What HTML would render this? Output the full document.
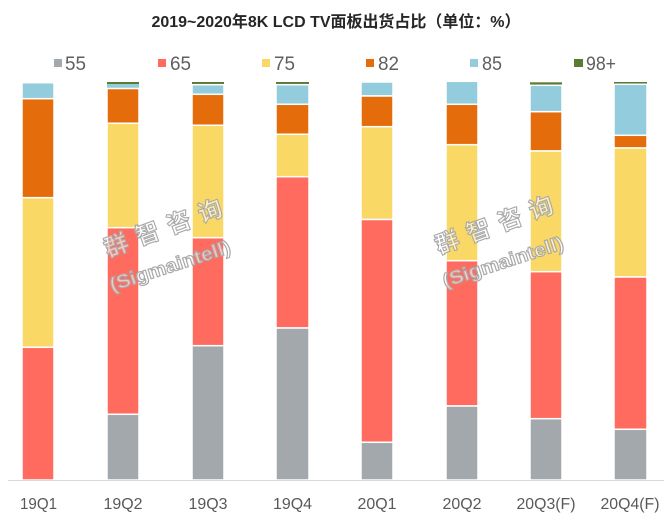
<!DOCTYPE html>
<html>
<head>
<meta charset="utf-8">
<style>
html,body{margin:0;padding:0;background:#fff;}
svg{display:block;}
</style>
</head>
<body>
<svg width="671" height="521" viewBox="0 0 671 521" xmlns="http://www.w3.org/2000/svg">
<rect width="671" height="521" fill="#fff"/>
<!-- title -->
<text x="336" y="27" text-anchor="middle" font-family="'Liberation Sans','Noto Sans CJK SC',sans-serif" font-weight="bold" font-size="16" fill="#262626" textLength="369" lengthAdjust="spacingAndGlyphs">2019~2020年8K LCD TV面板出货占比（单位：%）</text>

<!-- legend -->
<g font-family="'Liberation Sans','Noto Sans CJK SC',sans-serif" font-size="19" fill="#5f5f5f">
<rect x="54" y="59" width="8" height="8" fill="#a3a8ad"/><text x="65" y="70" textLength="21" lengthAdjust="spacingAndGlyphs">55</text>
<rect x="158" y="59" width="8" height="8" fill="#ff6b5e"/><text x="170" y="70" textLength="21" lengthAdjust="spacingAndGlyphs">65</text>
<rect x="262" y="59" width="8" height="8" fill="#f9d865"/><text x="274" y="70" textLength="21" lengthAdjust="spacingAndGlyphs">75</text>
<rect x="366" y="59" width="8" height="8" fill="#e46c0a"/><text x="378" y="70" textLength="21" lengthAdjust="spacingAndGlyphs">82</text>
<rect x="470" y="59" width="8" height="8" fill="#93cddd"/><text x="482" y="70" textLength="20" lengthAdjust="spacingAndGlyphs">85</text>
<rect x="574" y="59" width="9" height="8" fill="#5b7a33"/><text x="586" y="70" textLength="30" lengthAdjust="spacingAndGlyphs">98+</text>
</g>

<!-- bars -->
<g stroke="#fff" stroke-width="1.5">
<!-- 19Q1 -->
<rect x="22" y="82.7" width="32" height="16" fill="#93cddd"/>
<rect x="22" y="98.7" width="32" height="99" fill="#e46c0a"/>
<rect x="22" y="197.7" width="32" height="149.6" fill="#f9d865"/>
<rect x="22" y="347.3" width="32" height="132.7" fill="#ff6b5e"/>
<!-- 19Q2 -->
<rect x="107" y="82" width="32" height="2" fill="#5b7a33" stroke="none"/>
<rect x="107" y="84" width="32" height="4" fill="#93cddd" stroke="none"/>
<rect x="107" y="88.5" width="32" height="34.8" fill="#e46c0a"/>
<rect x="107" y="123.3" width="32" height="104.4" fill="#f9d865"/>
<rect x="107" y="227.7" width="32" height="186.6" fill="#ff6b5e"/>
<rect x="107" y="414.3" width="32" height="65.7" fill="#a3a8ad"/>
<!-- 19Q3 -->
<rect x="192" y="82" width="32" height="2.7" fill="#5b7a33" stroke="none"/>
<rect x="192" y="84.7" width="32" height="9.6" fill="#93cddd"/>
<rect x="192" y="94.3" width="32" height="31" fill="#e46c0a"/>
<rect x="192" y="125.3" width="32" height="112.4" fill="#f9d865"/>
<rect x="192" y="237.7" width="32" height="108" fill="#ff6b5e"/>
<rect x="192" y="345.7" width="32" height="134.3" fill="#a3a8ad"/>
<!-- 19Q4 -->
<rect x="276" y="82" width="33" height="2.7" fill="#5b7a33" stroke="none"/>
<rect x="276" y="84.7" width="33" height="19.6" fill="#93cddd"/>
<rect x="276" y="104.3" width="33" height="30" fill="#e46c0a"/>
<rect x="276" y="134.3" width="33" height="42.4" fill="#f9d865"/>
<rect x="276" y="176.7" width="33" height="151.3" fill="#ff6b5e"/>
<rect x="276" y="328" width="33" height="152" fill="#a3a8ad"/>
<!-- 20Q1 -->
<rect x="361" y="82" width="32" height="14" fill="#93cddd"/>
<rect x="361" y="96" width="32" height="30.7" fill="#e46c0a"/>
<rect x="361" y="126.7" width="32" height="92.8" fill="#f9d865"/>
<rect x="361" y="219.5" width="32" height="222.8" fill="#ff6b5e"/>
<rect x="361" y="442.3" width="32" height="37.7" fill="#a3a8ad"/>
<!-- 20Q2 -->
<rect x="446" y="81.3" width="32" height="23" fill="#93cddd"/>
<rect x="446" y="104.3" width="32" height="40.4" fill="#e46c0a"/>
<rect x="446" y="144.7" width="32" height="116" fill="#f9d865"/>
<rect x="446" y="260.7" width="32" height="145.3" fill="#ff6b5e"/>
<rect x="446" y="406" width="32" height="74" fill="#a3a8ad"/>
<!-- 20Q3 -->
<rect x="530" y="82.3" width="32" height="3" fill="#5b7a33" stroke="none"/>
<rect x="530" y="85.3" width="32" height="26.4" fill="#93cddd"/>
<rect x="530" y="111.7" width="32" height="39.3" fill="#e46c0a"/>
<rect x="530" y="151" width="32" height="120.7" fill="#f9d865"/>
<rect x="530" y="271.7" width="32" height="147" fill="#ff6b5e"/>
<rect x="530" y="418.7" width="32" height="61.3" fill="#a3a8ad"/>
<!-- 20Q4 -->
<rect x="614" y="82" width="33" height="2.3" fill="#5b7a33" stroke="none"/>
<rect x="614" y="84.3" width="33" height="51" fill="#93cddd"/>
<rect x="614" y="135.3" width="33" height="12.7" fill="#e46c0a"/>
<rect x="614" y="148" width="33" height="129" fill="#f9d865"/>
<rect x="614" y="277" width="33" height="152.3" fill="#ff6b5e"/>
<rect x="614" y="429.3" width="33" height="50.7" fill="#a3a8ad"/>
</g>

<!-- axis -->
<line x1="8" y1="480.5" x2="664" y2="480.5" stroke="#d9d9d9" stroke-width="1"/>

<!-- axis labels -->
<g font-family="'Liberation Sans',sans-serif" font-size="16" fill="#595959" text-anchor="middle">
<text x="38.5" y="509" textLength="37" lengthAdjust="spacingAndGlyphs">19Q1</text>
<text x="123" y="509" textLength="39" lengthAdjust="spacingAndGlyphs">19Q2</text>
<text x="208" y="509" textLength="39" lengthAdjust="spacingAndGlyphs">19Q3</text>
<text x="292.5" y="509" textLength="39" lengthAdjust="spacingAndGlyphs">19Q4</text>
<text x="377" y="509" textLength="39" lengthAdjust="spacingAndGlyphs">20Q1</text>
<text x="462" y="509" textLength="39" lengthAdjust="spacingAndGlyphs">20Q2</text>
<text x="546" y="509" textLength="59" lengthAdjust="spacingAndGlyphs">20Q3(F)</text>
<text x="630" y="509" textLength="59" lengthAdjust="spacingAndGlyphs">20Q4(F)</text>
</g>

<!-- watermarks -->
<g font-weight="bold" fill="rgba(255,255,255,0.6)" stroke="#a8a8a8" stroke-width="1.1" text-anchor="middle">
<text transform="translate(166,236) rotate(-20)" font-family="'Noto Sans CJK SC','WenQuanYi Zen Hei',sans-serif" font-size="24" textLength="124" lengthAdjust="spacing">群智咨询</text>
<text transform="translate(172,272) rotate(-18)" font-family="'Liberation Sans',sans-serif" font-size="19" textLength="126" lengthAdjust="spacingAndGlyphs">(Sigmaintell)</text>
<text transform="translate(497,233) rotate(-20)" font-family="'Noto Sans CJK SC','WenQuanYi Zen Hei',sans-serif" font-size="24" textLength="124" lengthAdjust="spacing">群智咨询</text>
<text transform="translate(505,268) rotate(-18)" font-family="'Liberation Sans',sans-serif" font-size="19" textLength="126" lengthAdjust="spacingAndGlyphs">(Sigmaintell)</text>
</g>
</svg>
</body>
</html>
